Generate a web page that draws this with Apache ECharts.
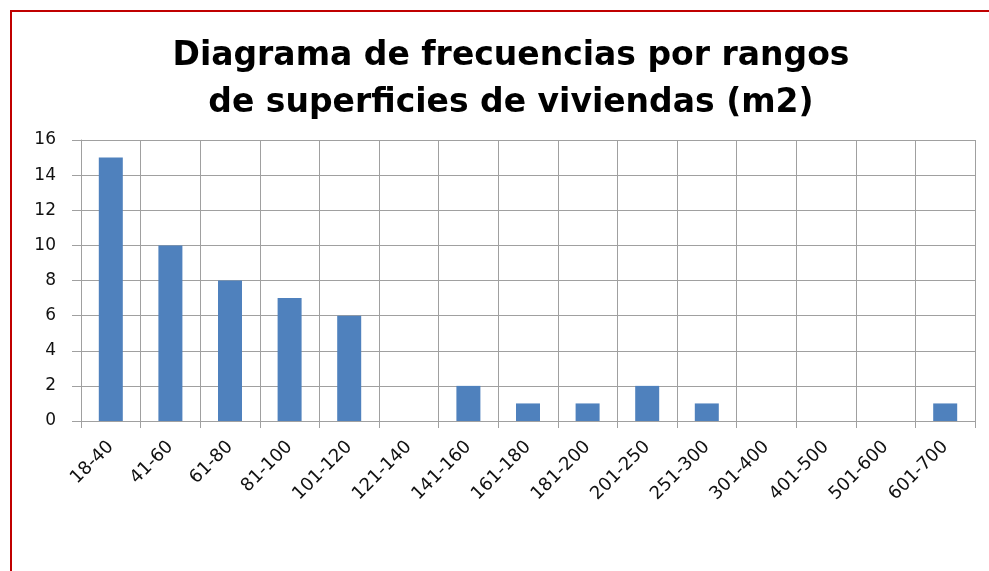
<!DOCTYPE html>
<html><head><meta charset="utf-8">
<script src="https://cdn.jsdelivr.net/npm/echarts@6/dist/echarts.min.js"></script>
<style>html,body{margin:0;padding:0;background:#fff}#c{width:989px;height:571px}</style>
</head><body><div id="c"></div>
<script>
const categories = ['18-40','41-60','61-80','81-100','101-120','121-140','141-160','161-180','181-200','201-250','251-300','301-400','401-500','501-600','601-700'];
const values = [15,10,8,7,6,0,2,1,1,2,1,0,0,0,1];
const titleText = 'Diagrama de frecuencias por rangos\nde superficies de viviendas (m2)';
const chart = echarts.init(document.getElementById('c'));
chart.setOption({
  animation:false,
  title:{text:titleText,left:506,top:28,textAlign:'center',
    textStyle:{fontFamily:'DejaVu Sans',fontWeight:'bold',fontSize:33,lineHeight:47,color:'#000'}},
  grid:{left:81,right:14,top:140,bottom:150,containLabel:false},
  xAxis:{type:'category',data:categories,boundaryGap:true,
    axisLine:{lineStyle:{color:'#A0A0A0',width:1}},
    axisTick:{show:true,length:7,lineStyle:{color:'#A0A0A0'}},
    splitLine:{show:true,lineStyle:{color:'#A0A0A0',width:1}},
    axisLabel:{rotate:45,interval:0,margin:23,fontFamily:'DejaVu Sans',fontSize:18,color:'#111'}},
  yAxis:{type:'value',min:0,max:16,interval:2,
    axisLine:{show:true,lineStyle:{color:'#A0A0A0',width:1}},
    axisTick:{show:true,length:9,lineStyle:{color:'#A0A0A0'}},
    splitLine:{show:true,lineStyle:{color:'#A0A0A0',width:1}},
    axisLabel:{margin:25,fontFamily:'DejaVu Sans',fontSize:17,color:'#111'}},
  series:[{type:'bar',data:values,barWidth:24,itemStyle:{color:'#4F81BD'}}],
  graphic:[
    {type:'line',shape:{x1:10,y1:11,x2:989,y2:11},style:{stroke:'#C00000',lineWidth:2}},
    {type:'line',shape:{x1:11,y1:10,x2:11,y2:571},style:{stroke:'#C00000',lineWidth:2}}
  ]
});
</script></body></html>
